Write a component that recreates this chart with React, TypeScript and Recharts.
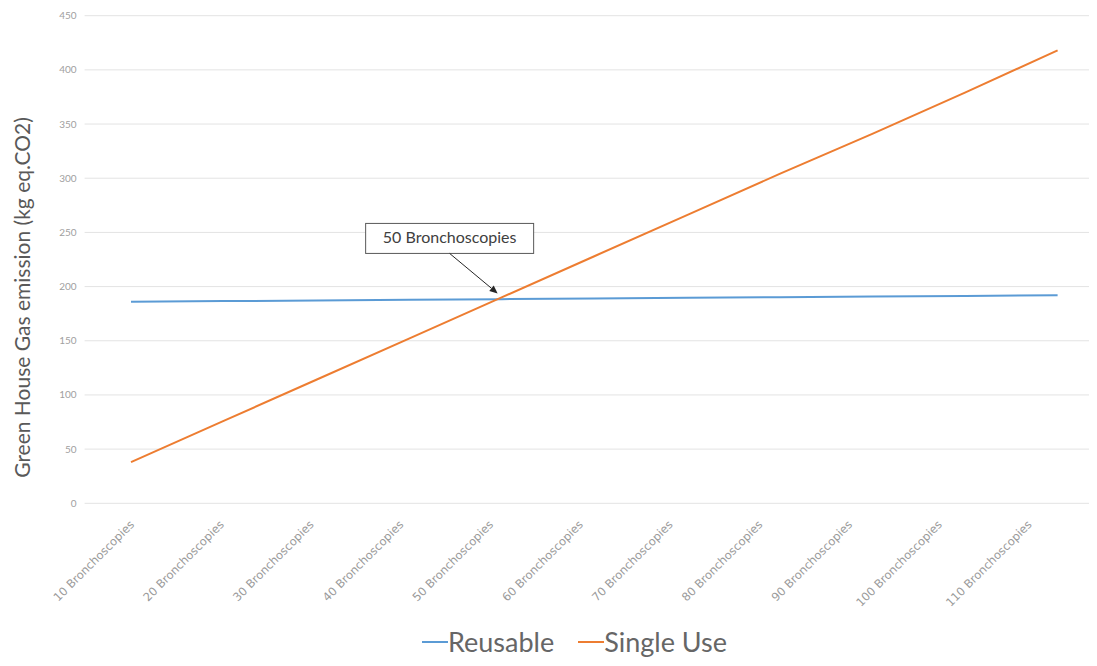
import {
  LineChart,
  Line,
  XAxis,
  YAxis,
  CartesianGrid,
  Legend,
  ReferenceDot,
} from "recharts";

const categories = [
  "10 Bronchoscopies",
  "20 Bronchoscopies",
  "30 Bronchoscopies",
  "40 Bronchoscopies",
  "50 Bronchoscopies",
  "60 Bronchoscopies",
  "70 Bronchoscopies",
  "80 Bronchoscopies",
  "90 Bronchoscopies",
  "100 Bronchoscopies",
  "110 Bronchoscopies",
];
const reusable = [186, 186.6, 187.2, 187.8, 188.4, 189, 189.6, 190.2, 190.8, 191.4, 192];
const singleUse = [38, 76, 114, 152, 190, 228, 266, 304, 341, 379, 418];
const yTicks = [0, 50, 100, 150, 200, 250, 300, 350, 400, 450];

const BLUE = "#5B9BD5";
const ORANGE = "#ED7D31";
const FONT = "Lato, 'Open Sans', sans-serif";

const data = categories.map((name, i) => ({
  name,
  reusable: reusable[i],
  singleUse: singleUse[i],
}));

function XTick(props: any) {
  const { x, y, payload, index } = props;
  const shift = -index * 2.9;
  return (
    <g transform={`translate(${x + shift + 4},${y + 14})`}>
      <text
        textAnchor="end"
        transform="rotate(-45)"
        fontSize={11.5}
        fill="#9a9a9a"
        fontFamily="'DejaVu Sans', sans-serif"
      >
        {payload.value}
      </text>
    </g>
  );
}

function Callout(props: any) {
  const { cx, cy } = props;
  const x1 = cx - 52;
  const y1 = cy - 44;
  const x2 = cx - 4;
  const y2 = cy - 4;
  const len = Math.hypot(x2 - x1, y2 - y1);
  const ux = (x2 - x1) / len;
  const uy = (y2 - y1) / len;
  const hx = x2 - ux * 8;
  const hy = y2 - uy * 8;
  return (
    <g>
      <rect x={cx - 136} y={cy - 74} width={168} height={30} fill="#fff" stroke="#595959" strokeWidth={1} />
      <text x={cx - 52} y={cy - 54} textAnchor="middle" fontSize={16} fill="#404040" fontFamily={FONT}>
        50 Bronchoscopies
      </text>
      <line x1={x1} y1={y1} x2={hx} y2={hy} stroke="#262626" strokeWidth={1} />
      <polygon
        points={`${x2},${y2} ${hx - uy * 3.5},${hy + ux * 3.5} ${hx + uy * 3.5},${hy - ux * 3.5}`}
        fill="#262626"
      />
    </g>
  );
}

function LegendContent() {
  const items = [
    { label: "Reusable", color: BLUE },
    { label: "Single Use", color: ORANGE },
  ];
  return (
    <div
      style={{
        height: 32,
        paddingTop: 14,
        paddingLeft: 414,
        display: "flex",
        alignItems: "center",
        fontFamily: FONT,
        fontSize: 27,
        color: "#666",
        lineHeight: "32px",
      }}
    >
      {items.map((it) => (
        <span key={it.label} style={{ display: "flex", alignItems: "center", marginRight: 24 }}>
          <span style={{ display: "inline-block", width: 26, height: 2, background: it.color }} />
          {it.label}
        </span>
      ))}
    </div>
  );
}

export default function App() {
  return (
    <div style={{ width: 1089, overflow: "hidden" }}>
      <LineChart width={1100} height={650} data={data} margin={{ top: 7.7, right: 4, bottom: 0, left: 0 }}>
        <CartesianGrid vertical={false} stroke="#e3e3e3" />
        <XAxis
          dataKey="name"
          axisLine={false}
          tickLine={false}
          interval={0}
          height={108.7}
          padding={{ left: 46.4, right: 46.4 }}
          tick={<XTick />}
        />
        <YAxis
          width={76.6}
          domain={[0, 450]}
          ticks={yTicks}
          axisLine={false}
          tickLine={false}
          tick={{ fontSize: 10, fill: "#a0a0a0", fontFamily: FONT }}
          label={{
            content: () => (
              <text
                transform="translate(13,289.5) rotate(-90)"
                textAnchor="middle"
                dominantBaseline="central"
                fontSize={21}
                fill="#595959"
                fontFamily={FONT}
              >
                Green House Gas emission (kg eq.CO2)
              </text>
            ),
          }}
        />
        <Line dataKey="reusable" name="Reusable" stroke={BLUE} strokeWidth={2} dot={false} isAnimationActive={false} />
        <Line dataKey="singleUse" name="Single Use" stroke={ORANGE} strokeWidth={2} dot={false} isAnimationActive={false} />
        <ReferenceDot x="50 Bronchoscopies" y={190} r={0} shape={<Callout />} />
        <Legend
          verticalAlign="bottom"
          content={<LegendContent />}
          wrapperStyle={{ left: 0, width: 1100, height: 46 }}
        />
      </LineChart>
    </div>
  );
}
